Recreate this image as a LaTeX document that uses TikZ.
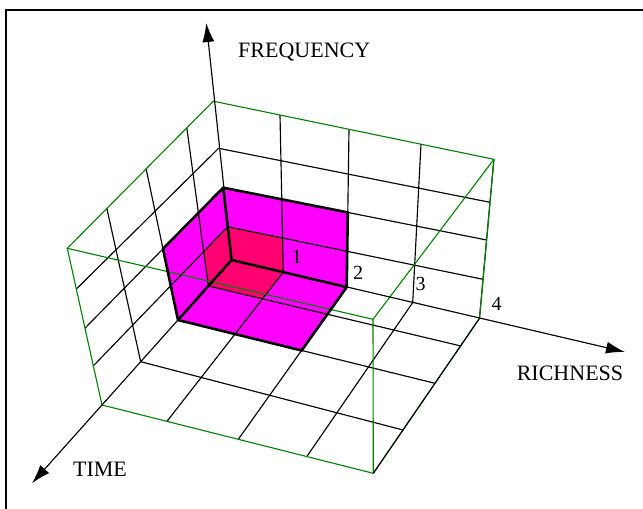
\documentclass[tikz,border=0pt]{standalone}
\usepackage{fontspec}
\setmainfont{Liberation Serif}
\usetikzlibrary{arrows.meta}
\definecolor{boxgreen}{RGB}{0,128,0}
\definecolor{cellpink}{RGB}{255,0,255}
\definecolor{corepink}{RGB}{255,0,112}
\tikzset{
  grid line/.style={black, line width=1.15pt},
  box edge/.style={boxgreen, line width=1.1pt},
  outline/.style={black, line width=2.6pt},
  axis/.style={black, line width=1.15pt, -{Latex[length=19pt,width=12pt]}},
  axis label/.style={anchor=base, font=\fontsize{22}{22}\selectfont},
  tick label/.style={anchor=base, font=\fontsize{20}{20}\selectfont},
}

\begin{document}
\begin{tikzpicture}[x=1pt, y=-1pt]
  \useasboundingbox (0,0) rectangle (643,509);
  % Frame: top and left edges
  \draw[line width=2.5pt] (6,509) -- (6,10) -- (643,10);

  % Corners and axis tips
  \coordinate (O) at (231.6,260);
  \coordinate (c444) at (373,319.3);
  \coordinate (ftip) at (206.3,23);
  \coordinate (rtip) at (625,352);
  \coordinate (ttip) at (32,483.3);
  % Points 1..4 along the box edges
  \foreach \n/\u/\v in {1/227.7/226.7, 2/223.2/187.7, 3/218.6/148.3, 4/213.3/101.2}
    \coordinate (f\n) at (\u,\v);
  \foreach \n/\u/\v in {1/283.3/272.2, 2/346.7/287.1, 3/412.7/302.6, 4/479.5/318.3}
    \coordinate (r\n) at (\u,\v);
  \foreach \n/\u/\v in {1/208.4/286, 2/178/320, 3/140.7/361.7, 4/102/405}
    \coordinate (t\n) at (\u,\v);
  \foreach \n/\u/\v in {1/280/115, 2/349/129.3, 3/421/144.2, 4/493.9/159.3}
    \coordinate (bt\n) at (\u,\v);
  \foreach \n/\u/\v in {1/483/279.3, 2/486.6/240, 3/490/202.3}
    \coordinate (br\n) at (\u,\v);
  \foreach \n/\u/\v in {1/186.8/127.8, 2/146.1/168.7, 3/106.8/208.1, 4/67.3/248.3}
    \coordinate (lt\n) at (\u,\v);
  \foreach \n/\u/\v in {1/93.2/366, 2/84.8/328.3, 3/76.1/289.3}
    \coordinate (lf\n) at (\u,\v);
  \foreach \n/\u/\v in {1/166.7/421.7, 2/238.3/439.3, 3/306.7/456.7, 4/373.3/473.3}
    \coordinate (ff\n) at (\u,\v);
  \foreach \n/\u/\v in {1/460.6/345.9, 2/435/383.3, 3/403/430}
    \coordinate (fr\n) at (\u,\v);

  % Cell corners inside the walls
  \coordinate (b1) at (intersection of r1--bt1 and f1--br1);
  \coordinate (b2) at (intersection of r2--bt2 and f2--br2);
  \coordinate (l1) at (intersection of t1--lt1 and f1--lf1);
  \coordinate (l2) at (intersection of t2--lt2 and f2--lf2);
  \coordinate (g1) at (intersection of r1--ff1 and t1--fr1);
  \coordinate (g2) at (intersection of r2--ff2 and t2--fr2);

  % Filled cells
  \fill[cellpink] (f2) -- (b2) -- (r2) -- (g2) -- (t2) -- (l2) -- cycle;
  \fill[corepink] (f1) -- (b1) -- (r1) -- (g1) -- (t1) -- (l1) -- cycle;

  % Grid on back wall, left wall and floor
  \foreach \i in {1,2,3} {
    \draw[grid line] (r\i) -- (bt\i);
    \draw[grid line] (f\i) -- (br\i);
    \draw[grid line] (t\i) -- (lt\i);
    \draw[grid line] (f\i) -- (lf\i);
    \draw[grid line] (r\i) -- (ff\i);
    \draw[grid line] (t\i) -- (fr\i);
  }
  \draw[grid line] (r4) -- (bt4);

  % Box edges
  \draw[box edge] (f4) -- (bt4) -- (c444) -- (lt4) -- cycle;
  \draw[box edge] (lt4) -- (t4) -- (ff4) -- (c444);
  \draw[box edge] (bt4) -- (r4) -- (ff4);
  \draw[grid line] (r4) -- (ff4);

  % Outline of the cells
  \draw[outline] (f2) -- (b2) -- (r2) -- (g2) -- (t2) -- (l2) -- cycle;
  \draw[outline] (f2) -- (O) -- (r2) (O) -- (t2);

  % Axes
  \draw[axis] (O) -- (ftip);
  \draw[axis] (O) -- (rtip);
  \draw[axis] (O) -- (ttip);
  \node[axis label] (freq) at (304.2,57.8) {FREQUENCY};
  \node[axis label] (rich) at (570,380) {RICHNESS};
  \node[axis label] (timelab) at (100,476.7) {TIME};
  \foreach \n/\u/\v in {1/296.7/263.3, 2/358/279.3, 3/420.5/290, 4/496.7/310}
    \node[tick label] (tick\n) at (\u,\v) {\n};
\end{tikzpicture}
\end{document}
